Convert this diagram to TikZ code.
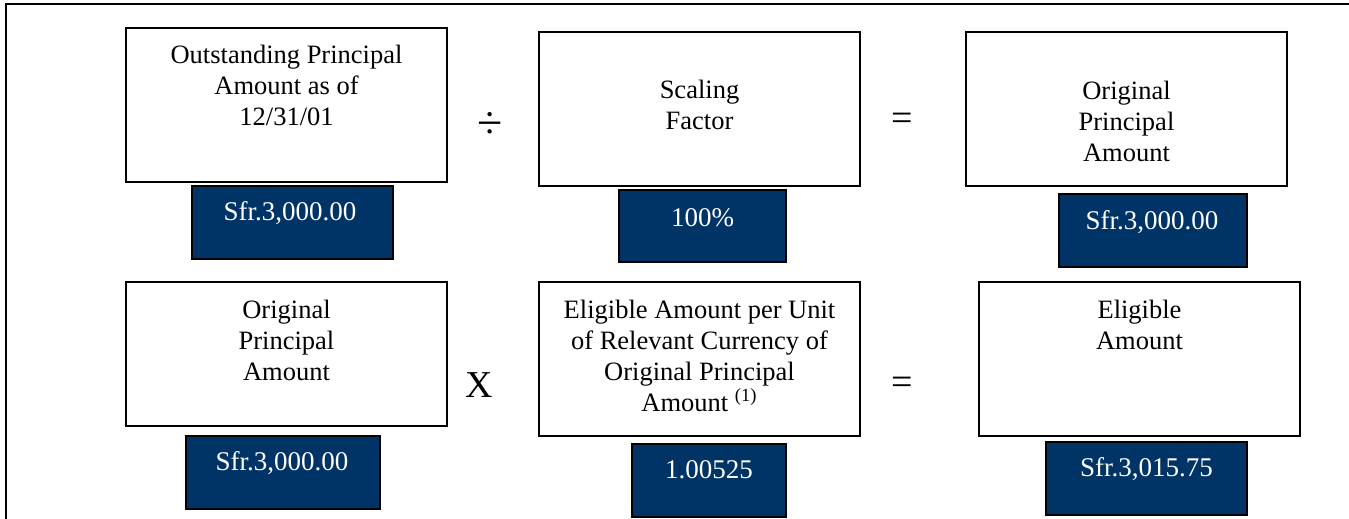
\documentclass[tikz,border=0pt]{standalone}
\usepackage{fontspec}
\setmainfont{Liberation Serif}
\definecolor{navy}{HTML}{003366}

\begin{document}
\begin{tikzpicture}[x=0.5pt, y=-0.5pt,
  box/.style={draw=black, line width=0.9pt, inner sep=0pt, minimum width=160.5pt, minimum height=77pt},
  valbox/.style={draw=black, line width=0.9pt, fill=navy, inner sep=0pt, minimum height=36.5pt},
  boxtext/.style={align=center, inner sep=0pt, font=\fontsize{13.25}{15.5}\selectfont},
  valtext/.style={text=white, inner sep=0pt, font=\fontsize{13.5}{15.5}\selectfont},
  op/.style={inner sep=0pt, font=\fontsize{19}{22}\selectfont}]
\useasboundingbox (0,0) rectangle (1349,519);
\draw[line width=1pt] (6,519) -- (6,4) -- (1349,4);
% first row
\node[box] (outstanding) at (286.5,105) {};
\node[boxtext] (outstandingtext) at (286.5,85) {Outstanding Principal\\Amount as of\\12/31/01};
\node[valbox, minimum width=100.5pt] (outstandingval) at (292.5,222.5) {};
\node[valtext] (outstandingvaltext) at (290,213) {Sfr.3,000.00};
\node[op, font=\fontsize{23}{26}\selectfont] (divide) at (490,125) {÷};
\node[box] (scaling) at (699.5,109) {};
\node[boxtext] (scalingtext) at (699.5,105) {Scaling\\Factor};
\node[valbox, minimum width=83.5pt, minimum height=36pt] (scalingval) at (702.5,226) {};
\node[valtext] (scalingvaltext) at (702.5,218) {100\%};
\node[op] (equalsone) at (902,122) {=};
\node[box] (original) at (1126.5,109) {};
\node[boxtext] (originaltext) at (1126.5,121) {Original\\Principal\\Amount};
\node[valbox, minimum width=94pt] (originalval) at (1153,230.5) {};
\node[valtext] (originalvaltext) at (1152,222) {Sfr.3,000.00};
% second row
\node[box, minimum height=72pt] (principal) at (286.5,354) {};
\node[boxtext] (principaltext) at (286.5,340) {Original\\Principal\\Amount};
\node[valbox, minimum width=97pt] (principalval) at (283,472.5) {};
\node[valtext] (principalvaltext) at (282,463) {Sfr.3,000.00};
\node[op] (times) at (479,385) {X};
\node[box] (perunit) at (699.5,359) {};
\node[boxtext] (perunittext) at (699.5,356) {Eligible Amount per Unit\\of Relevant Currency of\\Original Principal\\Amount \textsuperscript{(1)}};
\node[valbox, minimum width=77pt] (perunitval) at (709,480.5) {};
\node[valtext] (perunitvaltext) at (709,470) {1.00525};
\node[op] (equalstwo) at (902,386) {=};
\node[box] (eligible) at (1139.5,359) {};
\node[boxtext] (eligibletext) at (1139.5,325) {Eligible\\Amount};
\node[valbox, minimum width=100.5pt] (eligibleval) at (1146.5,478.5) {};
\node[valtext] (eligiblevaltext) at (1146.5,469) {Sfr.3,015.75};
\end{tikzpicture}
\end{document}
